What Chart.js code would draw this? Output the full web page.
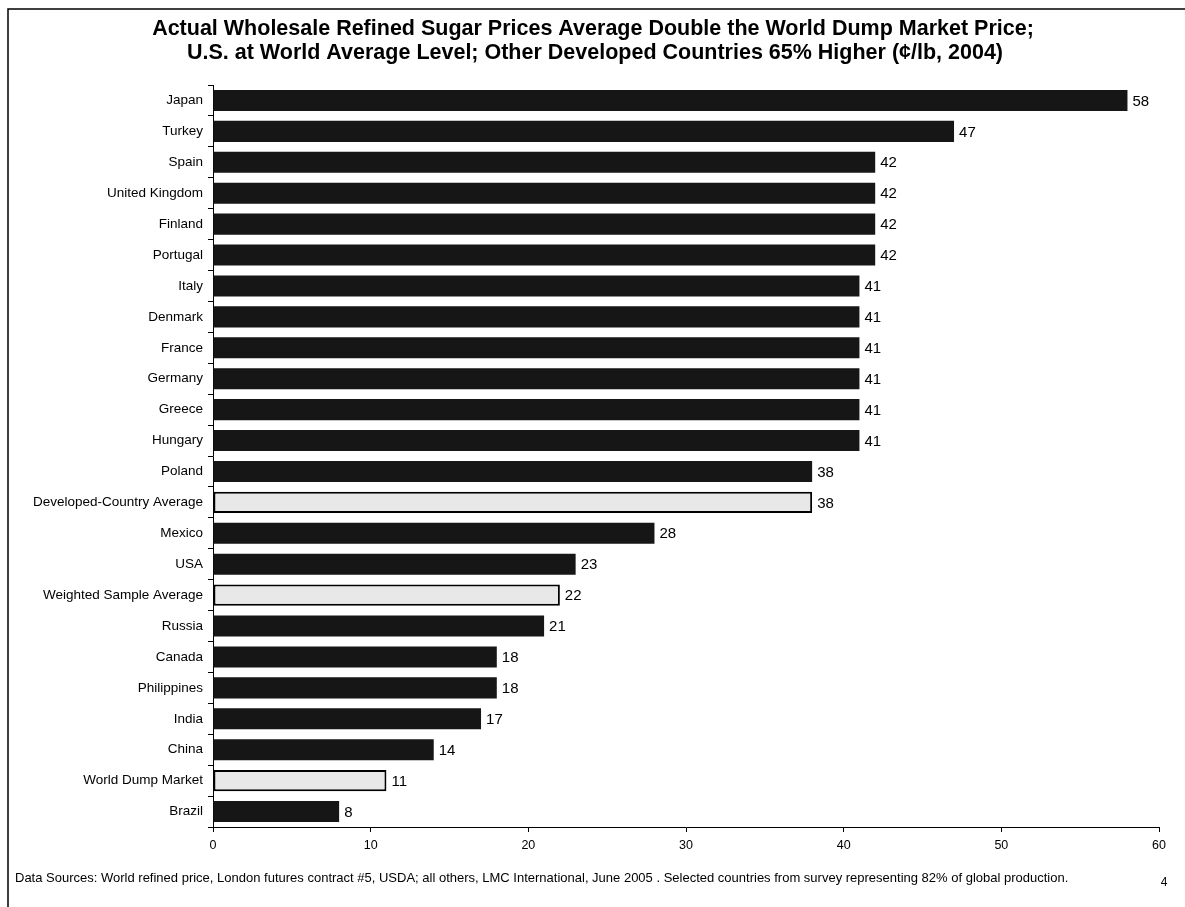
<!DOCTYPE html>
<html>
<head>
<meta charset="utf-8">
<script src="https://cdn.jsdelivr.net/npm/chart.js@4"></script>
<style>
  html, body { margin: 0; padding: 0; background: #fff; }
  #wrap { width: 1185px; height: 907px; }
</style>
</head>
<body>
<div id="wrap"><canvas id="chart-sugar"></canvas></div>
<script>
const countries = [
  'Japan', 'Turkey', 'Spain', 'United Kingdom', 'Finland', 'Portugal', 'Italy',
  'Denmark', 'France', 'Germany', 'Greece', 'Hungary', 'Poland',
  'Developed-Country Average', 'Mexico', 'USA', 'Weighted Sample Average',
  'Russia', 'Canada', 'Philippines', 'India', 'China', 'World Dump Market', 'Brazil'
];
const prices = [58, 47, 42, 42, 42, 42, 41, 41, 41, 41, 41, 41, 38, 38, 28, 23, 22, 21, 18, 18, 17, 14, 11, 8];
const averageRows = ['Developed-Country Average', 'Weighted Sample Average', 'World Dump Market'];
const xTicks = [0, 10, 20, 30, 40, 50, 60];

const titleLines = [
  'Actual Wholesale Refined Sugar Prices Average Double the World Dump Market Price;',
  'U.S. at World Average Level; Other Developed Countries 65% Higher (\u00a2/lb, 2004)'
];
const sourceNote = 'Data Sources: World refined price, London futures contract #5, USDA; all others, LMC International, June 2005 . Selected countries from survey representing 82% of global production.';
const pageNumber = '4';

const FONT = "'Liberation Sans', Arial, sans-serif";
const DARK = '#161616';
const LIGHT = '#e8e8e8';

const isAvg = (name) => averageRows.includes(name);

// value labels at the end of each bar
const barValues = {
  id: 'barValues',
  afterDatasetsDraw(chart) {
    const { ctx } = chart;
    const meta = chart.getDatasetMeta(0);
    ctx.save();
    ctx.font = '15px ' + FONT;
    ctx.fillStyle = '#000';
    ctx.textAlign = 'left';
    ctx.textBaseline = 'middle';
    meta.data.forEach((bar, i) => {
      ctx.fillText(String(prices[i]), bar.x + 5, bar.y + 1);
    });
    ctx.restore();
  }
};

// page frame, two-line heading, source note and page number
const pageDecor = {
  id: 'pageDecor',
  afterDraw(chart) {
    const { ctx, width, height } = chart;
    ctx.save();
    ctx.strokeStyle = '#000';
    ctx.lineWidth = 1.5;
    ctx.beginPath();
    ctx.moveTo(8, height);
    ctx.lineTo(8, 9);
    ctx.lineTo(width, 9);
    ctx.stroke();

    ctx.fillStyle = '#000';
    ctx.textBaseline = 'middle';
    ctx.textAlign = 'center';
    ctx.font = 'bold 21.5px ' + FONT;
    ctx.fillText(titleLines[0], 593, 29);
    ctx.fillText(titleLines[1], 595, 53);

    ctx.font = '13px ' + FONT;
    ctx.textAlign = 'left';
    ctx.fillText(sourceNote, 15, 878);
    ctx.font = '12px ' + FONT;
    ctx.textAlign = 'center';
    ctx.fillText(pageNumber, 1164, 883);
    ctx.restore();
  }
};

new Chart(document.getElementById('chart-sugar'), {
  type: 'bar',
  data: {
    labels: countries,
    datasets: [{
      data: prices,
      backgroundColor: countries.map(c => isAvg(c) ? LIGHT : DARK),
      borderColor: '#000',
      borderWidth: countries.map(c => isAvg(c) ? 2 : 0),
      borderSkipped: false,
      categoryPercentage: 1,
      barPercentage: 0.68
    }]
  },
  options: {
    indexAxis: 'y',
    responsive: true,
    maintainAspectRatio: false,
    animation: false,
    layout: { padding: { top: 85, right: 26, bottom: 50, left: 0 } },
    plugins: {
      legend: { display: false },
      tooltip: { enabled: false },
      title: { display: false }
    },
    scales: {
      x: {
        min: 0,
        max: 60,
        afterBuildTicks: (scale) => { scale.ticks = xTicks.map(v => ({ value: v })); },
        afterFit: (scale) => { scale.height = 30; },
        border: { color: '#000', width: 1 },
        grid: { drawOnChartArea: false, tickLength: 5, color: '#000' },
        ticks: { color: '#000', padding: 6, font: { family: FONT, size: 12.5 } }
      },
      y: {
        afterFit: (scale) => { scale.width = 213; },
        border: { color: '#000', width: 1 },
        grid: { drawOnChartArea: false, tickLength: 5, color: '#000', offset: true },
        ticks: { color: '#000', padding: 5, autoSkip: false, font: { family: FONT, size: 13.5 } }
      }
    }
  },
  plugins: [barValues, pageDecor]
});
</script>
</body>
</html>
